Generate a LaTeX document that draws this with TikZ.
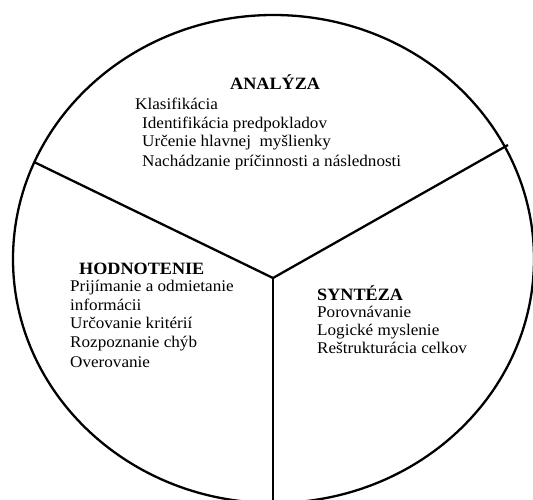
\documentclass[tikz,border=0pt]{standalone}
\usepackage{fontspec}
\setmainfont[FakeStretch=1.05]{Liberation Serif}
\begin{document}
\begin{tikzpicture}[x=1pt,y=-1pt,
  ln/.style={line width=2.3pt,black},
  txt/.style={anchor=base west,inner sep=0pt,font=\fontsize{16.3}{18}\selectfont},
  hd/.style={anchor=base west,inner sep=0pt,font=\fontsize{17.3}{18}\selectfont\bfseries}]
\useasboundingbox (0,0) rectangle (533,500);
\clip (0,0) rectangle (533,500);
\coordinate (c) at (273,278);
\coordinate (pl) at (34,162);
\coordinate (pr) at (508,145);
\coordinate (pb) at (273,510);
\draw[ln] (273.5,259) ellipse [x radius=260.5, y radius=244];
\draw[ln] (pl) -- (c) -- (pr);
\draw[ln] (c) -- (pb);
% ANALYZA
\node[hd]  (a0) at (230,89.5) {ANALÝZA};
\node[txt] (a1) at (135,110) {Klasifikácia};
\node[txt] (a2) at (142,128.5) {Identifikácia predpokladov};
\node[txt] (a3) at (142,146.5) {Určenie hlavnej\ \ myšlienky};
\node[txt] (a4) at (142,166.5) {Nachádzanie príčinnosti a následnosti};
% HODNOTENIE
\node[hd]  (h0) at (79,274) {HODNOTENIE};
\node[txt] (h1) at (70,291) {Prijímanie a odmietanie};
\node[txt] (h2) at (70,310) {informácii};
\node[txt] (h3) at (70,328) {Určovanie kritérií};
\node[txt] (h4) at (70,347) {Rozpoznanie chýb};
\node[txt] (h5) at (70,367) {Overovanie};
% SYNTEZA
\node[hd]  (s0) at (317,300) {SYNTÉZA};
\node[txt] (s1) at (317,317) {Porovnávanie};
\node[txt] (s2) at (317,335) {Logické myslenie};
\node[txt] (s3) at (317,353.5) {Reštrukturácia celkov};
\end{tikzpicture}
\end{document}
